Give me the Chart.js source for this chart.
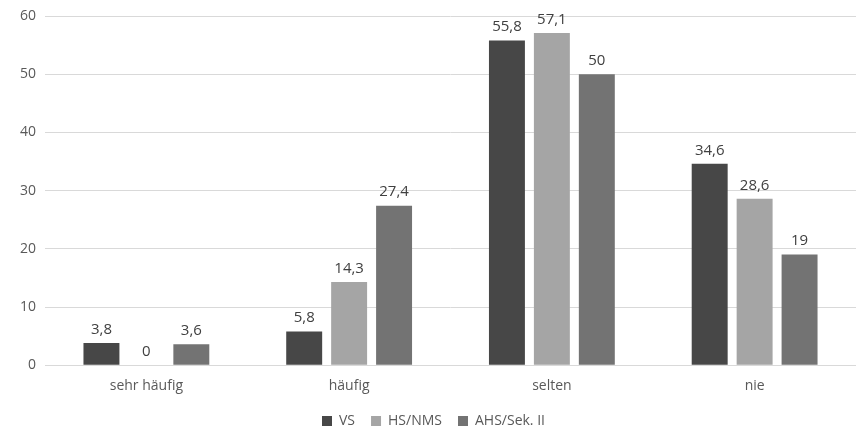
<!DOCTYPE html>
<html><head><meta charset="utf-8">
<script src="https://cdn.jsdelivr.net/npm/chart.js@4/dist/chart.umd.min.js"></script>
<style>html,body{margin:0;padding:0;background:#fff}#wrap{width:856px;height:437px}</style>
</head><body><div id="wrap"><canvas id="c" width="856" height="437"></canvas></div>
<script>
const categories = ["sehr häufig", "häufig", "selten", "nie"];
const seriesNames = ["VS", "HS/NMS", "AHS/Sek. II"];
const vsValues = [3.8, 5.8, 55.8, 34.6];
const hsValues = [0, 14.3, 57.1, 28.6];
const ahsValues = [3.6, 27.4, 50, 19];
const yTicks = [0, 10, 20, 30, 40, 50, 60];
const colors = ["#474747", "#a5a5a5", "#737373"];

const FONT = "'Open Sans', 'Liberation Sans', Arial, sans-serif";
const labelPlugin = {
  id: 'barLabels',
  afterDatasetsDraw(chart) {
    const ctx = chart.ctx;
    ctx.save();
    ctx.font = "15px " + FONT;
    ctx.fillStyle = "#404040";
    ctx.textAlign = "center";
    ctx.textBaseline = "bottom";
    chart.data.datasets.forEach((ds, i) => {
      chart.getDatasetMeta(i).data.forEach((bar, j) => {
        const v = ds.data[j];
        ctx.fillText(String(v).replace('.', ','), bar.x, bar.y - 6);
      });
    });
    ctx.restore();
  }
};

new Chart(document.getElementById('c'), {
  type: 'bar',
  data: {
    labels: categories,
    datasets: [
      { label: seriesNames[0], data: vsValues, backgroundColor: colors[0] },
      { label: seriesNames[1], data: hsValues, backgroundColor: colors[1] },
      { label: seriesNames[2], data: ahsValues, backgroundColor: colors[2] }
    ]
  },
  options: {
    responsive: false,
    animation: false,
    devicePixelRatio: 1,
    layout: { padding: { left: 11, right: 0, top: 0, bottom: -1 } },
    datasets: { bar: { categoryPercentage: 0.665, barPercentage: 0.8 } },
    plugins: {
      legend: {
        position: 'bottom',
        labels: {
          boxWidth: 10, boxHeight: 10, padding: 16,
          color: '#595959', font: { family: FONT, size: 14 }
        }
      },
      tooltip: { enabled: false }
    },
    scales: {
      x: {
        grid: { display: false },
        border: { display: true, color: '#d9d9d9' },
        ticks: { color: '#595959', font: { family: FONT, size: 14 }, padding: 4 }
      },
      y: {
        min: 0, max: 60,
        afterBuildTicks(axis) { axis.ticks = yTicks.map(v => ({ value: v })); },
        grid: { color: '#d9d9d9', drawTicks: false },
        border: { display: false },
        ticks: { color: '#595959', font: { family: FONT, size: 14, lineHeight: 1 }, padding: 9 }
      }
    }
  },
  plugins: [labelPlugin]
});
</script></body></html>
